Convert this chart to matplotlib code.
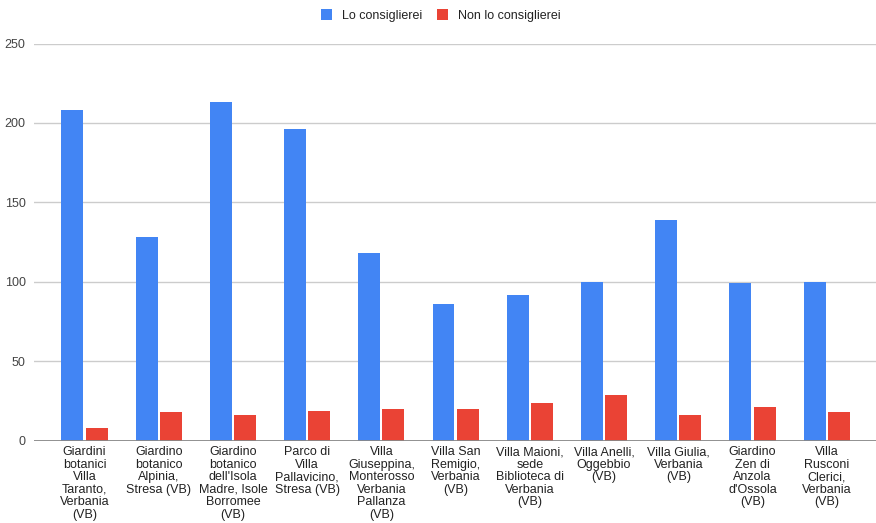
import numpy as np
import matplotlib
matplotlib.use("Agg")
import matplotlib.pyplot as plt

plt.rcParams["font.family"] = ["Liberation Sans", "DejaVu Sans"]

# Data
categories = [
    "Giardini\nbotanici\nVilla\nTaranto,\nVerbania\n(VB)",
    "Giardino\nbotanico\nAlpinia,\nStresa (VB)",
    "Giardino\nbotanico\ndell'Isola\nMadre, Isole\nBorromee\n(VB)",
    "Parco di\nVilla\nPallavicino,\nStresa (VB)",
    "Villa\nGiuseppina,\nMonterosso\nVerbania\nPallanza\n(VB)",
    "Villa San\nRemigio,\nVerbania\n(VB)",
    "Villa Maioni,\nsede\nBiblioteca di\nVerbania\n(VB)",
    "Villa Anelli,\nOggebbio\n(VB)",
    "Villa Giulia,\nVerbania\n(VB)",
    "Giardino\nZen di\nAnzola\nd'Ossola\n(VB)",
    "Villa\nRusconi\nClerici,\nVerbania\n(VB)",
]
lo_consiglierei = [208, 128, 213, 196, 118, 86, 92, 100, 139, 99, 100]
non_lo_consiglierei = [8, 18, 16, 19, 20, 20, 24, 29, 16, 21, 18]
y_ticks = [0, 50, 100, 150, 200, 250]

blue = "#4285F4"
red = "#EA4335"

W, H = 876, 523
fig = plt.figure(figsize=(W / 100, H / 100), dpi=100)
ax = fig.add_axes([34 / W, 1 - 440.7 / H, (876 - 34) / W, (440.7 - 43.5) / H])

x = np.arange(len(categories))
bw = 0.296
off = 0.163
ax.bar(x - off, lo_consiglierei, bw, color=blue, label="Lo consiglierei", zorder=3)
ax.bar(x + off, non_lo_consiglierei, bw, color=red, label="Non lo consiglierei", zorder=3)

ax.set_xlim(-0.68, 10.664)
ax.set_ylim(0, 250)
ax.set_yticks(y_ticks)
ax.set_yticklabels([str(t) for t in y_ticks])
ax.set_xticks(x)
ax.set_xticklabels(categories, fontsize=9, linespacing=1.05, color="#222222", va="top")

# Grid and axis styling
for t in y_ticks[1:]:
    ax.axhline(t, color="#cccccc", lw=1, zorder=1)
ax.axhline(0, color="#888888", lw=1.3, zorder=4)
for s in ax.spines.values():
    s.set_visible(False)
ax.tick_params(axis="both", length=0)
ax.tick_params(axis="y", pad=6, labelsize=9, labelcolor="#444444")
ax.tick_params(axis="x", pad=4)

fig.legend(loc="upper center", bbox_to_anchor=(0.503, 1.004), ncol=2, frameon=False,
           fontsize=9, handlelength=0.9, handleheight=0.9, columnspacing=1.15,
           handletextpad=0.8, labelcolor="#222222")

fig.savefig("out.png", dpi=100)
